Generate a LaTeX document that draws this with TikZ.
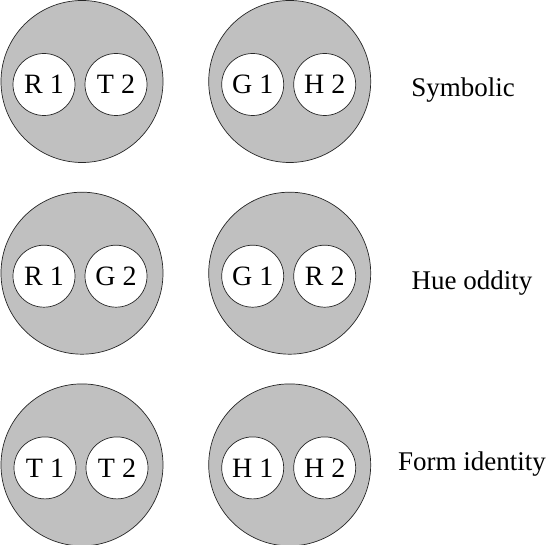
\documentclass[tikz,border=0pt]{standalone}
\usepackage{fontspec}
\setmainfont{Liberation Serif}
\usepackage{xcolor}
\usepackage{tikz}
\usetikzlibrary{positioning}
\definecolor{discgray}{RGB}{192,192,192}
\tikzstyle{disc}=[circle, draw=black!85, line width=0.7pt, fill=discgray, minimum size=162pt, inner sep=0pt]
\tikzstyle{cue}=[circle, draw=black!85, line width=0.7pt, fill=white, minimum size=62pt, inner sep=0pt, font=\fontsize{28}{32}\selectfont]
\tikzstyle{task}=[font=\fontsize{27}{31}\selectfont, inner sep=0pt]

\begin{document}
\begin{tikzpicture}[x=1pt, y=-1pt]
        \useasboundingbox (0,0) rectangle (552,545);

        \node[disc] (sym1) at (82,81.5) {};
        \node[disc, right=45pt of sym1] (sym2) {};
        \node[disc, below=29pt of sym1] (hue1) {};
        \node[disc, right=45pt of hue1] (hue2) {};
        \node[disc, below=29pt of hue1] (form1) {};
        \node[disc, right=45pt of form1] (form2) {};

        \node[cue, xshift=-38pt, yshift=-3pt] (symR) at (sym1) {R 1};
        \node[cue, xshift=34pt, yshift=-3pt] (symT) at (sym1) {T 2};
        \node[cue, xshift=-37pt, yshift=-3pt] (symG) at (sym2) {G 1};
        \node[cue, xshift=35pt, yshift=-3pt] (symH) at (sym2) {H 2};

        \node[cue, xshift=-38pt, yshift=-3pt] (hueR) at (hue1) {R 1};
        \node[cue, xshift=34pt, yshift=-3pt] (hueG) at (hue1) {G 2};
        \node[cue, xshift=-37pt, yshift=-3pt] (hueG1) at (hue2) {G 1};
        \node[cue, xshift=35pt, yshift=-3pt] (hueR2) at (hue2) {R 2};

        \node[cue, xshift=-37pt, yshift=-3pt] (formT) at (form1) {T 1};
        \node[cue, xshift=35pt, yshift=-3pt] (formT2) at (form1) {T 2};
        \node[cue, xshift=-37pt, yshift=-3pt] (formH) at (form2) {H 1};
        \node[cue, xshift=35pt, yshift=-3pt] (formH2) at (form2) {H 2};

        \node[task] (symbolic) at (463,90) {Symbolic};
        \node[task] (hue) at (472,283) {Hue oddity};
        \node[task] (form) at (472,464) {Form identity};
    \end{tikzpicture}
\end{document}
